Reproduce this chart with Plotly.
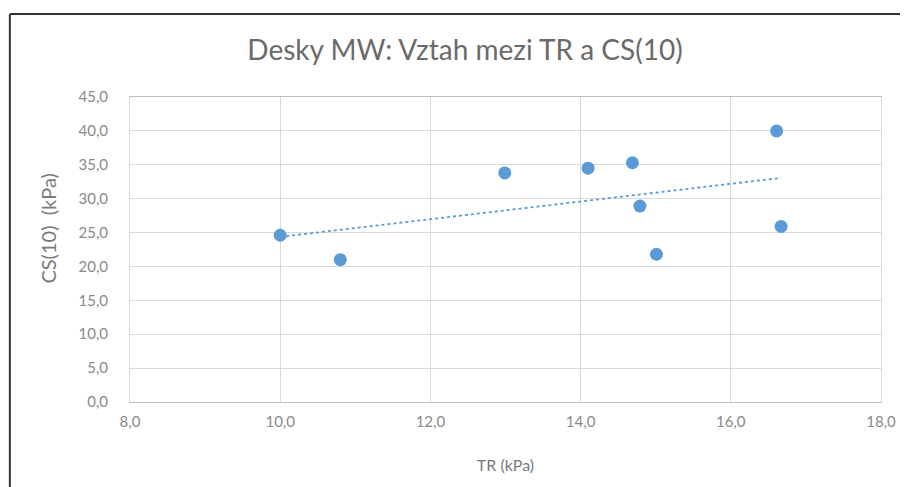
import numpy as np
import plotly.graph_objects as go

# TR (kPa) and CS(10) (kPa)
tr_kpa = [10.0, 10.80, 12.99, 14.10, 14.69, 14.79, 15.01, 16.61, 16.67]
cs10_kpa = [24.6, 21.0, 33.8, 34.5, 35.3, 28.9, 21.8, 40.0, 25.9]

x_ticks = [8, 10, 12, 14, 16, 18]
y_ticks = [0, 5, 10, 15, 20, 25, 30, 35, 40, 45]

blue = "#5b9bd5"
grey_text = "#8a8a8a"
grid = "#d9d9d9"

# linear trendline like Excel's
slope, intercept = np.polyfit(tr_kpa, cs10_kpa, 1)
trend_x = np.array([min(tr_kpa), max(tr_kpa)])
trend_y = slope * trend_x + intercept

fig = go.Figure()
fig.add_trace(go.Scatter(x=trend_x, y=trend_y, mode="lines",
                         line=dict(color=blue, width=1.8, dash="dot"),
                         hoverinfo="skip", showlegend=False))
fig.add_trace(go.Scatter(x=tr_kpa, y=cs10_kpa, mode="markers",
                         marker=dict(color=blue, size=13),
                         showlegend=False))

# page body adds 8px, so the figure is 8px smaller than the window
fig.update_layout(
    width=900, height=479,
    margin=dict(l=122, r=23, t=89, b=85),
    paper_bgcolor="white", plot_bgcolor="white",
    separators=", ",
    font=dict(family="Lato, Open Sans, sans-serif", color=grey_text, size=15),
    title=dict(text="Desky MW: Vztah mezi TR a CS(10)", x=457 / 900, xanchor="center",
               y=1 - 42 / 479, yanchor="middle",
               font=dict(size=28, color="#6a6a6a")),
)
fig.update_xaxes(range=[8, 18], tickvals=x_ticks, tickformat=".1f",
                 showgrid=True, gridcolor=grid, gridwidth=1,
                 showline=True, linecolor="#bfbfbf", mirror=True, zeroline=False,
                 ticks="", ticklabelstandoff=6,
                 title=dict(text="TR (kPa)", standoff=30, font=dict(size=16, color="#7a7a7a")))
fig.update_yaxes(range=[0, 45], tickvals=y_ticks, tickformat=".1f",
                 showgrid=True, gridcolor=grid, gridwidth=1,
                 showline=True, linecolor="#d9d9d9", mirror=True, zeroline=False,
                 ticks="", ticklabelstandoff=18)

# y title sits a little above the plot centre in the reference
fig.add_annotation(text="CS(10)  (kPa)", xref="paper", yref="paper",
                   x=-0.1086, y=0.57, textangle=-90, showarrow=False,
                   xanchor="center", yanchor="middle",
                   font=dict(size=20, color="#7a7a7a"))

# the dark frame around the pasted chart
fig.add_shape(type="line", xref="paper", yref="paper", x0=-0.16, x1=1.1, y0=1.272, y1=1.272,
              line=dict(color="#333333", width=2))
fig.add_shape(type="line", xref="paper", yref="paper", x0=-0.16, x1=-0.16, y0=1.272, y1=-0.3,
              line=dict(color="#333333", width=2))

fig.write_html("out.html")
